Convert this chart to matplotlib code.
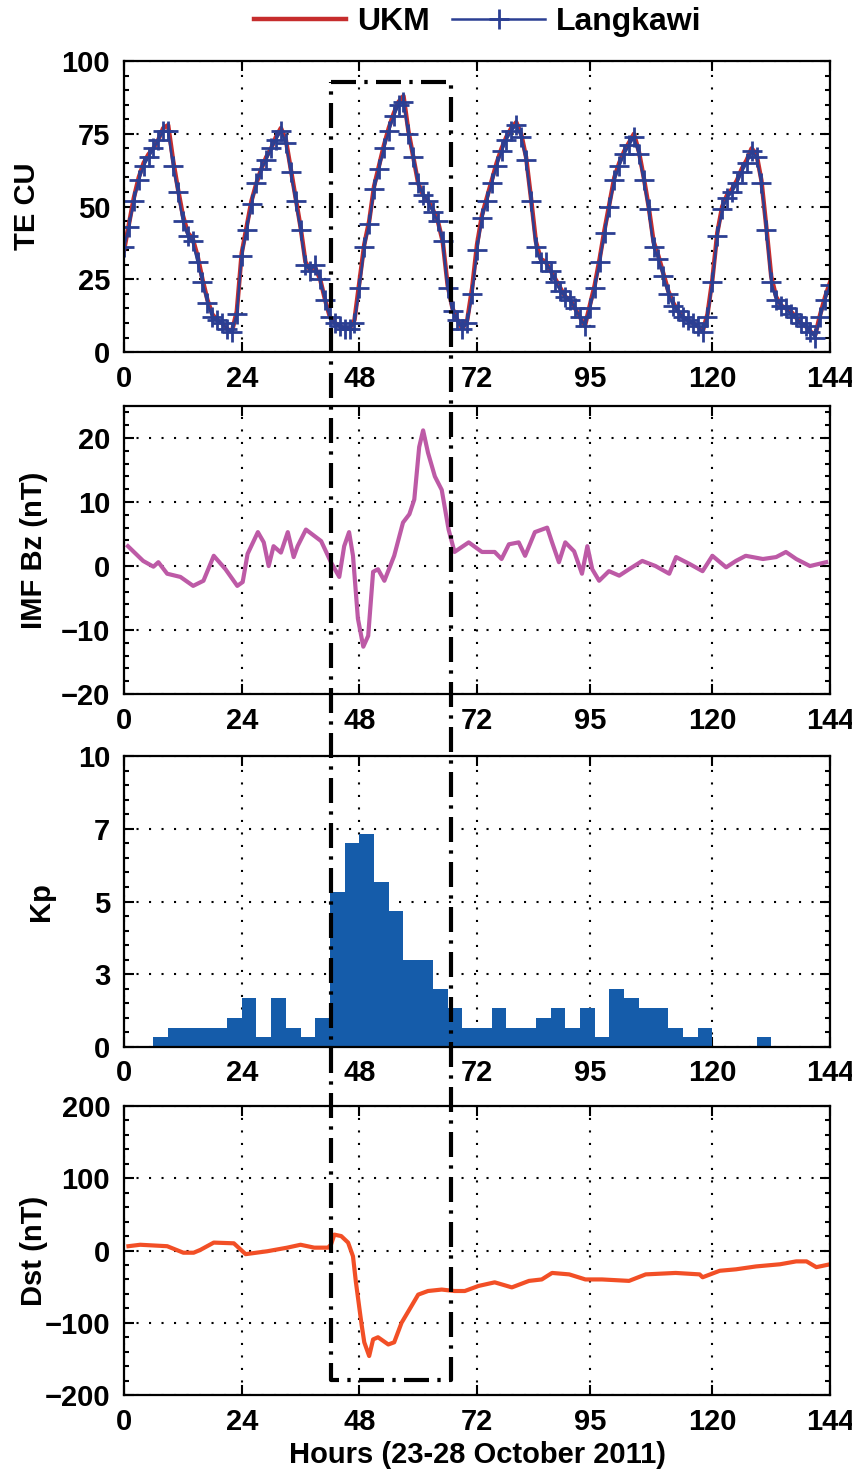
#!/usr/bin/env python3
# -*- coding: utf-8 -*-
"""
TEC over UKM and Langkawi with IMF Bz, Kp and Dst, 23-28 October 2011.
Four stacked panels sharing the hour axis, storm window boxed.
"""

import matplotlib.pyplot as plt
from matplotlib.lines import Line2D
from matplotlib.ticker import AutoMinorLocator

plt.rcParams["font.family"] = ["Liberation Sans", "DejaVu Sans"]
plt.rcParams["font.weight"] = "bold"

# ------------------------------------------------------------------------------

# Data

hours = list(range(0, 145))

tec_ukm = [
    35, 44, 53, 60, 65, 68, 70, 73, 77, 78,
    66, 56, 47, 41, 39, 33, 25, 18, 13, 11,
    10, 8, 7, 14, 34, 43, 52, 58, 63, 67,
    70, 74, 77, 73, 63, 53, 43, 31, 28, 29,
    25, 18, 12, 10, 9, 8, 8, 11, 24, 37,
    45, 57, 64, 71, 77, 82, 86, 88, 76, 67,
    58, 54, 52, 49, 45, 38, 23, 15, 11, 8,
    11, 22, 37, 47, 53, 59, 65, 70, 74, 77,
    79, 75, 67, 53, 38, 32, 31, 28, 25, 22,
    19, 18, 15, 12, 9, 16, 23, 32, 42, 51,
    60, 65, 69, 72, 75, 69, 60, 50, 38, 33,
    27, 21, 17, 14, 12, 11, 10, 9, 7, 13,
    25, 41, 50, 54, 56, 59, 63, 66, 70, 68,
    59, 43, 26, 19, 16, 15, 14, 12, 10, 9,
    7, 6, 13, 19, 24,
]

tec_langkawi = [
    36, 43, 52, 59, 64, 67, 70, 73, 76, 76,
    64, 55, 45, 40, 38, 31, 24, 17, 12, 11,
    10, 8, 7, 13, 33, 42, 51, 58, 63, 66,
    70, 73, 76, 72, 62, 52, 42, 30, 28, 30,
    25, 18, 12, 10, 9, 8, 8, 10, 22, 36,
    44, 56, 63, 70, 76, 81, 85, 86, 75, 67,
    58, 54, 52, 48, 45, 38, 22, 14, 11, 8,
    10, 20, 35, 46, 52, 58, 64, 69, 73, 76,
    78, 74, 66, 52, 36, 31, 31, 28, 24, 21,
    19, 18, 15, 12, 9, 15, 22, 31, 41, 50,
    59, 64, 68, 71, 74, 68, 59, 49, 36, 32,
    26, 20, 16, 14, 12, 11, 10, 9, 7, 12,
    24, 40, 49, 53, 55, 58, 62, 65, 69, 67,
    58, 42, 24, 18, 16, 15, 13, 12, 10, 9,
    7, 5, 12, 18, 23,
]

imf_hours = [
    0.8, 3.9, 6.0, 7.0, 8.8, 11.5, 14.1, 16.2, 18.3, 20.7,
    23.1, 24.2, 25.2, 27.3, 28.5, 29.5, 30.5, 32.0, 33.4, 34.6,
    35.4, 37.1, 40.2, 42.2, 43.9, 44.9, 45.9, 46.7, 47.7, 48.8,
    49.8, 50.8, 51.8, 53.1, 55.1, 56.9, 58.2, 59.2, 60.2, 61.0,
    62.0, 63.4, 64.8, 66.2, 67.4, 70.3, 73.0, 75.6, 77.0, 78.5,
    80.5, 81.8, 83.8, 86.3, 87.3, 88.7, 90.0, 91.8, 93.4, 94.5,
    95.5, 96.9, 98.9, 101.0, 103.0, 105.7, 108.4, 111.2, 112.6, 115.4,
    118.0, 120.0, 122.8, 124.8, 126.8, 130.3, 133.0, 135.0, 137.1, 139.9,
    143.2,
]

imf_bz = [
    3.1, 0.8, -0.1, 0.6, -1.2, -1.7, -3.1, -2.3, 1.6, -0.5,
    -3.1, -2.5, 1.9, 5.3, 3.7, 0.0, 3.1, 2.1, 5.3, 1.4,
    3.1, 5.7, 3.9, 0.6, -1.7, 3.1, 5.3, 1.6, -8.2, -12.6,
    -10.9, -0.9, -0.5, -2.3, 1.6, 6.8, 8.1, 10.4, 18.6, 21.2,
    17.7, 14.0, 11.9, 5.7, 2.2, 3.7, 2.2, 2.2, 1.1, 3.4,
    3.7, 1.6, 5.3, 6.0, 3.7, 0.6, 3.7, 2.3, -1.2, 3.1,
    -0.5, -2.3, -0.8, -1.5, -0.5, 0.8, 0.0, -1.2, 1.4, 0.3,
    -0.8, 1.6, -0.2, 0.8, 1.6, 1.1, 1.4, 2.2, 1.1, 0.0,
    0.6,
]

kp_start = list(range(0, 144, 3))
kp_values = [
    0, 0, 0.33, 0.67, 0.67, 0.67, 0.67, 1.0, 1.67, 0.33,
    1.67, 0.67, 0.33, 1.0, 5.33, 7.0, 7.33, 5.67, 4.67, 3.0,
    3.0, 2.0, 1.33, 0.67, 0.67, 1.33, 0.67, 0.67, 1.0, 1.33,
    0.67, 1.33, 0.33, 2.0, 1.67, 1.33, 1.33, 0.67, 0.33, 0.67,
    0, 0, 0, 0.33, 0, 0, 0, 0,
]

dst_hours = [
    0.9, 3.3, 8.8, 12.1, 14.2, 15.6, 18.3, 22.4, 24.8, 29.2,
    33.3, 36.0, 38.8, 41.6, 42.2, 42.9, 44.3, 45.7, 46.7, 47.3,
    48.4, 49.0, 50.0, 50.8, 51.8, 53.9, 55.1, 56.6, 58.0, 60.0,
    62.0, 64.8, 67.4, 69.5, 72.3, 75.6, 79.1, 82.6, 85.2, 87.3,
    90.8, 94.1, 97.5, 103.0, 106.4, 112.5, 117.4, 118.0, 121.5, 124.8,
    128.9, 133.8, 137.1, 139.2, 141.2, 144.0,
]

dst_values = [
    6, 8, 6, -3, -3, 1, 11, 10, -5, -1,
    4, 8, 4, 4, 8, 22, 20, 11, -8, -44,
    -100, -127, -146, -123, -120, -130, -127, -100, -84, -61,
    -56, -54, -56, -56, -49, -44, -51, -42, -40, -31,
    -33, -40, -40, -42, -33, -31, -33, -37, -28, -26,
    -22, -19, -15, -15, -23, -19,
]

x_ticks = [0, 24, 48, 72, 95, 120, 144]

# storm window box: hours, top in TECU, bottom in nT
box_hours = (42.2, 66.6)
box_top_tec = 92.8
box_bottom_dst = -179

# ------------------------------------------------------------------------------

FS = 21
GRID_STYLE = dict(color="k", linestyle=(0, (1, 5)), linewidth=1.5)


def style_axes(ax, ylim, yticks, yticklabels=None):
    ax.set_xlim(0, 144)
    ax.set_ylim(*ylim)
    ax.set_xticks(x_ticks)
    ax.set_yticks(yticks)
    if yticklabels is not None:
        ax.set_yticklabels(yticklabels)
    ax.yaxis.set_minor_locator(AutoMinorLocator(5))
    ax.tick_params(which="both", direction="in", top=True, right=True,
                   width=1.5, labelsize=FS)
    ax.tick_params(which="major", length=7)
    ax.tick_params(which="minor", length=3.5)
    ax.tick_params(axis="x", pad=9)
    ax.tick_params(axis="y", pad=10)
    for lab in ax.get_xticklabels() + ax.get_yticklabels():
        lab.set_fontweight("bold")
    for s in ax.spines.values():
        s.set_linewidth(1.6)
    ax.grid(True, which="major", **GRID_STYLE)
    ax.set_axisbelow(True)


def side_label(ax, text, x=-0.13):
    ax.text(x, 0.5, text, transform=ax.transAxes, rotation=90,
            ha="center", va="center", fontsize=FS, fontweight="bold")


fig = plt.figure(figsize=(8.53, 14.83), dpi=100)

left, width = 0.1454, 0.8277
ax1 = fig.add_axes([left, 0.7626, width, 0.1962])
ax2 = fig.add_axes([left, 0.5320, width, 0.1942])
ax3 = fig.add_axes([left, 0.2940, width, 0.1962])
ax4 = fig.add_axes([left, 0.0593, width, 0.1949])

# TEC
ax1.plot(hours, tec_ukm, color="#c62d2d", linewidth=3.2, label="UKM")
ax1.plot(hours, tec_langkawi, color="#2b3f93", linewidth=1.8, marker="+",
         markersize=15, markeredgewidth=2, label="Langkawi")
style_axes(ax1, (0, 100), [0, 25, 50, 75, 100])
side_label(ax1, "TE CU", x=-0.137)

# IMF Bz
ax2.plot(imf_hours, imf_bz, color="#bd5aa6", linewidth=3)
style_axes(ax2, (-20, 25), [-20, -10, 0, 10, 20])
side_label(ax2, "IMF Bz (nT)", x=-0.128)

# Kp
ax3.bar(kp_start, kp_values, width=3, align="edge", color="#155caa",
        edgecolor="none")
style_axes(ax3, (0, 10), [0, 2.5, 5, 7.5, 10], ["0", "3", "5", "7", "10"])
side_label(ax3, "Kp", x=-0.118)

# Dst
ax4.plot(dst_hours, dst_values, color="#f24f26", linewidth=3)
style_axes(ax4, (-200, 200), [-200, -100, 0, 100, 200])
side_label(ax4, "Dst (nT)", x=-0.128)
ax4.set_xlabel("Hours (23-28 October 2011)", fontsize=FS,
               fontweight="bold", labelpad=4)

# legend above the top panel
fig.legend(handles=ax1.get_lines(), loc="center", ncol=2, frameon=False,
           bbox_to_anchor=(0.56, 0.985), handlelength=2.9,
           handletextpad=0.35, columnspacing=0.7, borderaxespad=0,
           prop={"weight": "bold", "size": 23})


# dash-dot box spanning all four panels
def to_fig(ax, x, y):
    return fig.transFigure.inverted().transform(ax.transData.transform((x, y)))


x0, x1 = box_hours
corners = [to_fig(ax1, x0, box_top_tec), to_fig(ax1, x1, box_top_tec),
           to_fig(ax4, x1, box_bottom_dst), to_fig(ax4, x0, box_bottom_dst),
           to_fig(ax1, x0, box_top_tec)]
fig.add_artist(Line2D([c[0] for c in corners], [c[1] for c in corners],
                      transform=fig.transFigure, color="k", linewidth=3,
                      linestyle=(0, (6, 2, 0.8, 2)), zorder=10))

fig.savefig("out.png", dpi=100, facecolor="w")
